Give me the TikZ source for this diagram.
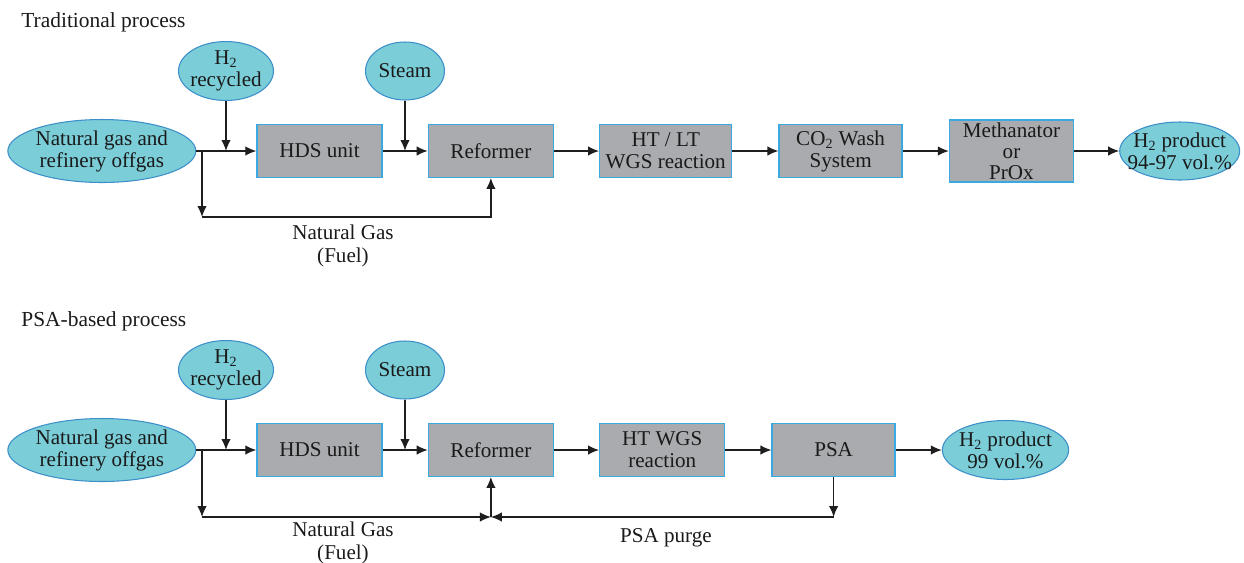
\documentclass[tikz,border=0pt]{standalone}
\usepackage{fontspec}
\setmainfont{Liberation Serif}
\usepackage{xcolor}
\usepackage{tikz}
\usetikzlibrary{positioning,shapes.geometric,arrows.meta}
\definecolor{streamfill}{HTML}{7BCDD8}
\definecolor{streamdraw}{HTML}{3C8FC8}
\definecolor{unitfill}{HTML}{A9ABAE}
\definecolor{unitdraw}{HTML}{3AA9E0}
\definecolor{textmain}{HTML}{1A1A1A}
\definecolor{linemain}{HTML}{1E1E1E}

\begin{document}
\begin{tikzpicture}[
  x=0.02cm, y=-0.02cm,
  stream/.style={
    ellipse, fill=streamfill, draw=streamdraw, line width=0.6pt,
    inner sep=0pt, align=center, text=textmain,
    font=\fontsize{12}{12.5}\selectfont,
  },
  unit/.style={
    rectangle, fill=unitfill, draw=unitdraw, line width=0.8pt,
    minimum width=2.5cm, minimum height=1.05cm,
    inner sep=0pt, align=center, text=textmain,
    font=\fontsize{12}{12.5}\selectfont,
  },
  flow/.style={draw=linemain, line width=0.75pt, -{Latex[length=2.2mm,width=1.9mm]}},
  pipe/.style={draw=linemain, line width=0.75pt},
  caption/.style={align=center, text=textmain, font=\fontsize{12}{13}\selectfont},
  heading/.style={anchor=west, inner sep=0pt, text=textmain, font=\fontsize{12.2}{14}\selectfont},
]
\useasboundingbox (0,0) rectangle (1244,562);

% traditional route
\node[heading] (title1) at (21,22) {Traditional process};

\node[unit] (hds1) at (319.5,151) {HDS unit};
\node[unit, right=0.9cm of hds1] (ref1) {Reformer};
\node[unit, minimum width=2.64cm, right=0.9cm of ref1] (wgs1) {HT / LT\\WGS reaction};
\node[unit, minimum width=2.46cm, right=0.92cm of wgs1] (wash1) {CO\textsubscript{2} Wash\\System};
\node[unit, minimum width=2.48cm, minimum height=1.24cm, right=0.92cm of wash1, font=\fontsize{12}{12}\selectfont] (meth1) {Methanator\\or\\PrOx};
\node[stream, inner xsep=-6pt, minimum width=2.4cm, minimum height=1.16cm, right=0.9cm of meth1] (prod1) {H\textsubscript{2} product\\94-97 vol.\%};

\node[stream, minimum width=3.76cm, minimum height=1.26cm, left=1.2cm of hds1] (feed1) {Natural gas and\\refinery offgas};
\node[stream, inner xsep=-2pt, minimum width=1.9cm, minimum height=1.18cm] (h2a1) at (226,71) {H\textsubscript{2}\\recycled};
\node[stream, minimum width=1.58cm, minimum height=1.16cm] (steam1) at (405,71) {Steam};

\coordinate (j1) at (202,151);
\coordinate (f1) at (202,217);
\coordinate (r1) at (ref1.south |- f1);

\draw[pipe] (feed1.east) -- (j1);
\draw[flow] (j1) -- (hds1.west);
\draw[flow] (h2a1.south) -- (h2a1.south |- j1);
\draw[flow] (steam1.south) -- (steam1.south |- hds1.east);
\draw[flow] (hds1) -- (ref1);
\draw[flow] (ref1) -- (wgs1);
\draw[flow] (wgs1) -- (wash1);
\draw[flow] (wash1) -- (meth1);
\draw[flow] (meth1) -- (prod1);
\draw[flow] (j1) -- (f1);
\draw[flow] (f1) -- (r1) -- (ref1.south);

\node[caption] (fuel1) at (343,246) {Natural Gas\\(Fuel)};

% PSA route
\node[heading] (title2) at (21,321) {PSA-based process};

\node[unit] (hds2) at (319.5,450) {HDS unit};
\node[unit, right=0.9cm of hds2] (ref2) {Reformer};
\node[unit, right=0.9cm of ref2] (wgs2) {HT WGS\\reaction};
\node[unit, minimum width=2.46cm, right=0.92cm of wgs2] (psa2) {PSA};
\node[stream, inner xsep=-1pt, minimum width=2.5cm, minimum height=1.18cm, right=0.92cm of psa2] (prod2) {H\textsubscript{2} product\\99 vol.\%};

\node[stream, minimum width=3.76cm, minimum height=1.26cm, left=1.2cm of hds2] (feed2) {Natural gas and\\refinery offgas};
\node[stream, inner xsep=-2pt, minimum width=1.9cm, minimum height=1.18cm] (h2a2) at (226,370) {H\textsubscript{2}\\recycled};
\node[stream, minimum width=1.58cm, minimum height=1.16cm] (steam2) at (405,370) {Steam};

\coordinate (j2) at (202,450);
\coordinate (f2) at (202,517);
\coordinate (r2) at (ref2.south |- f2);
\coordinate (p2) at (psa2.south |- f2);

\draw[pipe] (feed2.east) -- (j2);
\draw[flow] (j2) -- (hds2.west);
\draw[flow] (h2a2.south) -- (h2a2.south |- j2);
\draw[flow] (steam2.south) -- (steam2.south |- hds2.east);
\draw[flow] (hds2) -- (ref2);
\draw[flow] (ref2) -- (wgs2);
\draw[flow] (wgs2) -- (psa2);
\draw[flow] (psa2) -- (prod2);
\draw[flow] (j2) -- (f2);
\draw[flow] (f2) -- (r2);
\draw[flow] (psa2.south) -- (p2);
\draw[flow] (p2) -- (r2);
\draw[flow] (r2) -- (ref2.south);

\node[caption] (fuel2) at (343,543) {Natural Gas\\(Fuel)};
\node[caption] (purge2) at (666,538) {PSA purge};

\end{tikzpicture}
\end{document}
